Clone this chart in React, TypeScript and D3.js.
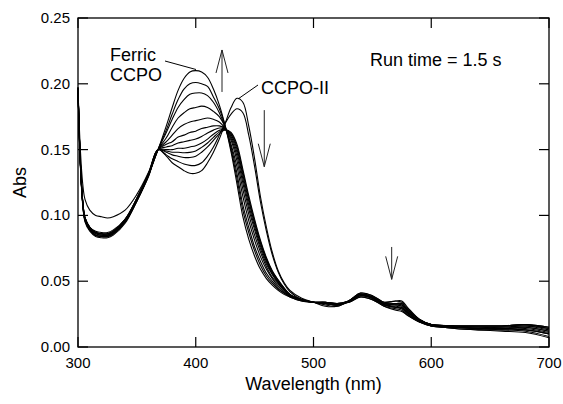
import React from "react";
import * as d3 from "d3";

// wavelength grid (nm) the spectra were read on
const wavelengths = [
  300, 302, 304, 306, 310, 315, 320, 325, 330, 340, 350, 360, 368,
  375, 380, 385, 390, 395, 400, 405, 410, 415, 420, 425, 430, 435, 440, 445, 450, 455, 460, 465, 470, 475, 480, 490, 500,
  510, 520, 530, 540, 550, 560, 570, 575, 580, 590, 600, 620, 640, 660, 680, 700,
];

// absorbance of each scan
const ferricCcpo = [
  0.197, 0.141, 0.111, 0.098, 0.091, 0.087, 0.086, 0.086, 0.088, 0.097, 0.113, 0.132, 0.15,
  0.168, 0.182, 0.195, 0.204, 0.209, 0.21, 0.209, 0.205, 0.196, 0.184, 0.168, 0.148, 0.124, 0.099, 0.082, 0.069, 0.059, 0.052, 0.047, 0.043, 0.04, 0.038, 0.035, 0.034,
  0.034, 0.033, 0.034, 0.038, 0.036, 0.031, 0.028, 0.027, 0.024, 0.019, 0.016, 0.015, 0.015, 0.015, 0.016, 0.014,
];
const scan2 = [
  0.197, 0.14, 0.11, 0.097, 0.09, 0.086, 0.085, 0.085, 0.087, 0.096, 0.112, 0.131, 0.15,
  0.165, 0.177, 0.188, 0.196, 0.2, 0.201, 0.2, 0.198, 0.19, 0.181, 0.168, 0.15, 0.128, 0.104, 0.087, 0.073, 0.062, 0.054, 0.0485, 0.044, 0.041, 0.038, 0.035, 0.034,
  0.034, 0.033, 0.034, 0.038, 0.036, 0.031, 0.029, 0.028, 0.024, 0.019, 0.017, 0.016, 0.016, 0.016, 0.017, 0.015,
];
const scan3 = [
  0.196, 0.139, 0.109, 0.096, 0.089, 0.085, 0.084, 0.084, 0.086, 0.095, 0.111, 0.131, 0.15,
  0.163, 0.173, 0.182, 0.188, 0.192, 0.193, 0.193, 0.191, 0.186, 0.178, 0.167, 0.152, 0.132, 0.108, 0.091, 0.076, 0.065, 0.056, 0.05, 0.045, 0.041, 0.0385, 0.0353, 0.034,
  0.033, 0.033, 0.035, 0.039, 0.037, 0.032, 0.03, 0.029, 0.025, 0.019, 0.016, 0.015, 0.014, 0.014, 0.015, 0.012,
];
const scan4 = [
  0.197, 0.14, 0.11, 0.097, 0.09, 0.087, 0.086, 0.085, 0.087, 0.096, 0.112, 0.132, 0.15,
  0.159, 0.167, 0.174, 0.178, 0.181, 0.182, 0.183, 0.182, 0.179, 0.175, 0.167, 0.154, 0.137, 0.1145, 0.096, 0.081, 0.0685, 0.059, 0.052, 0.0464, 0.042, 0.039, 0.0355, 0.034,
  0.034, 0.032, 0.034, 0.039, 0.037, 0.032, 0.03, 0.03, 0.025, 0.02, 0.017, 0.016, 0.016, 0.016, 0.017, 0.015,
];
const scan5 = [
  0.196, 0.138, 0.108, 0.095, 0.088, 0.084, 0.083, 0.083, 0.085, 0.094, 0.111, 0.13, 0.15,
  0.156, 0.161, 0.166, 0.169, 0.171, 0.172, 0.173, 0.174, 0.173, 0.171, 0.166, 0.157, 0.1415, 0.12, 0.101, 0.085, 0.072, 0.061, 0.053, 0.048, 0.043, 0.039, 0.0356, 0.034,
  0.033, 0.032, 0.035, 0.04, 0.037, 0.032, 0.031, 0.03, 0.026, 0.02, 0.016, 0.015, 0.014, 0.014, 0.014, 0.011,
];
const scan6 = [
  0.197, 0.141, 0.111, 0.098, 0.091, 0.087, 0.086, 0.086, 0.088, 0.096, 0.112, 0.131, 0.15,
  0.154, 0.156, 0.1595, 0.161, 0.163, 0.164, 0.166, 0.167, 0.168, 0.168, 0.166, 0.1586, 0.145, 0.1246, 0.105, 0.089, 0.0746, 0.063, 0.055, 0.0487, 0.0435, 0.0394, 0.0357, 0.034,
  0.034, 0.033, 0.035, 0.039, 0.038, 0.033, 0.032, 0.031, 0.026, 0.02, 0.017, 0.016, 0.016, 0.016, 0.017, 0.014,
];
const scan7 = [
  0.196, 0.139, 0.109, 0.096, 0.089, 0.085, 0.084, 0.084, 0.086, 0.095, 0.111, 0.13, 0.15,
  0.152, 0.153, 0.155, 0.156, 0.157, 0.158, 0.16, 0.1626, 0.1648, 0.1664, 0.1656, 0.16, 0.148, 0.128, 0.108, 0.0914, 0.0766, 0.0648, 0.0558, 0.0494, 0.044, 0.0396, 0.0358, 0.034,
  0.033, 0.032, 0.035, 0.04, 0.038, 0.033, 0.032, 0.032, 0.027, 0.02, 0.016, 0.015, 0.014, 0.013, 0.013, 0.01,
];
const scan8 = [
  0.197, 0.14, 0.11, 0.097, 0.09, 0.086, 0.085, 0.085, 0.087, 0.096, 0.112, 0.131, 0.15,
  0.15, 0.15, 0.151, 0.151, 0.152, 0.153, 0.155, 0.158, 0.1617, 0.1646, 0.1654, 0.1612, 0.1504, 0.1307, 0.111, 0.0936, 0.0784, 0.0661, 0.0567, 0.05, 0.0444, 0.0398, 0.0359, 0.034,
  0.033, 0.032, 0.035, 0.04, 0.038, 0.033, 0.033, 0.032, 0.027, 0.02, 0.017, 0.016, 0.016, 0.016, 0.016, 0.013,
];
const scan9 = [
  0.197, 0.141, 0.111, 0.098, 0.091, 0.088, 0.087, 0.087, 0.089, 0.097, 0.113, 0.132, 0.15,
  0.149, 0.148, 0.148, 0.1476, 0.1479, 0.149, 0.1517, 0.155, 0.1593, 0.1633, 0.1652, 0.1621, 0.1522, 0.1328, 0.113, 0.0953, 0.0797, 0.067, 0.0573, 0.0505, 0.0447, 0.0399, 0.036, 0.034,
  0.033, 0.032, 0.035, 0.04, 0.038, 0.033, 0.033, 0.033, 0.028, 0.021, 0.017, 0.015, 0.014, 0.014, 0.013, 0.01,
];
const scan10 = [
  0.196, 0.139, 0.109, 0.096, 0.089, 0.085, 0.084, 0.084, 0.086, 0.095, 0.111, 0.131, 0.15,
  0.148, 0.146, 0.145, 0.144, 0.144, 0.145, 0.148, 0.152, 0.157, 0.162, 0.165, 0.163, 0.154, 0.135, 0.115, 0.097, 0.081, 0.068, 0.058, 0.051, 0.045, 0.04, 0.036, 0.034,
  0.033, 0.032, 0.035, 0.04, 0.038, 0.033, 0.033, 0.033, 0.028, 0.021, 0.017, 0.016, 0.015, 0.015, 0.015, 0.012,
];
const scan11 = [
  0.197, 0.14, 0.111, 0.098, 0.091, 0.087, 0.086, 0.086, 0.088, 0.097, 0.113, 0.132, 0.15,
  0.146, 0.143, 0.141, 0.139, 0.138, 0.138, 0.14, 0.145, 0.152, 0.161, 0.17, 0.177, 0.181, 0.178, 0.161, 0.137, 0.11, 0.088, 0.07, 0.057, 0.048, 0.042, 0.036, 0.034,
  0.032, 0.031, 0.035, 0.041, 0.039, 0.034, 0.035, 0.034, 0.029, 0.021, 0.017, 0.014, 0.013, 0.013, 0.012, 0.008,
];
const ccpoII = [
  0.197, 0.15, 0.124, 0.112, 0.104, 0.1, 0.099, 0.098, 0.099, 0.104, 0.116, 0.133, 0.15,
  0.145, 0.14, 0.137, 0.134, 0.132, 0.132, 0.134, 0.14, 0.148, 0.158, 0.17, 0.182, 0.189, 0.186, 0.168, 0.143, 0.114, 0.091, 0.072, 0.058, 0.049, 0.043, 0.037, 0.034,
  0.031, 0.031, 0.035, 0.041, 0.039, 0.034, 0.035, 0.035, 0.03, 0.021, 0.017, 0.014, 0.013, 0.012, 0.011, 0.007,
];

const spectra = [ferricCcpo, scan2, scan3, scan4, scan5, scan6, scan7, scan8, scan9, scan10, scan11, ccpoII];

const xTicks = [300, 400, 500, 600, 700];
const yTicks = [0, 0.05, 0.1, 0.15, 0.2, 0.25];

const font = "'Liberation Sans', Arial, sans-serif";

export default function App() {
  const width = 563;
  const height = 404;
  const left = 78, right = 549, top = 18, bottom = 347;
  const tick = 10;

  const x = d3.scaleLinear().domain([300, 700]).range([left, right]);
  const y = d3.scaleLinear().domain([0, 0.25]).range([bottom, top]);

  const line = d3
    .line<number>()
    .x((d, i) => x(wavelengths[i]))
    .y((d) => y(d))
    .curve(d3.curveCatmullRom.alpha(0.5));

  // little open-headed arrows
  const arrow = (wl: number, from: number, to: number, key: string) => {
    const ax = x(wl);
    const y0 = y(from);
    const y1 = y(to);
    const dir = y1 < y0 ? 1 : -1;
    return (
      <g key={key} stroke="#222" strokeWidth={1} fill="none">
        <line x1={ax} y1={y0} x2={ax} y2={y1} />
        <polyline points={`${ax - 6},${y1 + dir * 23} ${ax},${y1} ${ax + 6},${y1 + dir * 23}`} />
      </g>
    );
  };

  return (
    <svg
      width={width}
      height={height}
      style={{ position: "absolute", left: 0, top: 0, background: "#fff" }}
      fontFamily={font}
    >
      <rect x={0} y={0} width={width} height={height} fill="#fff" />
      <g fill="none" stroke="#000" strokeWidth={1.1} strokeLinejoin="round">
        {spectra.map((s, i) => (
          <path key={i} d={line(s) || ""} />
        ))}
      </g>

      {/* frame and ticks */}
      <rect x={left} y={top} width={right - left} height={bottom - top} fill="none" stroke="#000" strokeWidth={1.3} />
      <g stroke="#000" strokeWidth={1.2}>
        {xTicks.map((t) => (
          <g key={"xt" + t}>
            <line x1={x(t)} x2={x(t)} y1={bottom} y2={bottom - tick} />
            <line x1={x(t)} x2={x(t)} y1={top} y2={top + tick} />
          </g>
        ))}
        {yTicks.map((t) => (
          <g key={"yt" + t}>
            <line x1={left} x2={left + tick} y1={y(t)} y2={y(t)} />
            <line x1={right} x2={right - tick} y1={y(t)} y2={y(t)} />
          </g>
        ))}
      </g>
      <g fontSize={15} fill="#000">
        {xTicks.map((t) => (
          <text key={"xl" + t} x={x(t)} y={bottom + 21} textAnchor="middle">
            {t}
          </text>
        ))}
        {yTicks.map((t) => (
          <text key={"yl" + t} x={left - 8} y={y(t) + 5} textAnchor="end">
            {d3.format(".2f")(t)}
          </text>
        ))}
      </g>
      <text x={(left + right) / 2} y={390} textAnchor="middle" fontSize={18}>
        Wavelength (nm)
      </text>
      <text transform={`translate(26,${(top + bottom) / 2}) rotate(-90)`} textAnchor="middle" fontSize={18}>
        Abs
      </text>

      {/* annotations */}
      <g fontSize={18} fill="#000">
        <text x={110} y={61}>Ferric</text>
        <text x={110} y={81}>CCPO</text>
        <text x={261} y={94}>CCPO-II</text>
        <text x={370} y={66}>Run time = 1.5 s</text>
      </g>
      <g stroke="#000" strokeWidth={1}>
        <line x1={165} y1={61} x2={196} y2={69.5} />
        <line x1={258} y1={85} x2={238} y2={99} />
      </g>
      {arrow(422.3, 0.1938, 0.2257, "up")}
      {arrow(458.2, 0.18, 0.137, "down1")}
      {arrow(566.4, 0.076, 0.0514, "down2")}
    </svg>
  );
}
